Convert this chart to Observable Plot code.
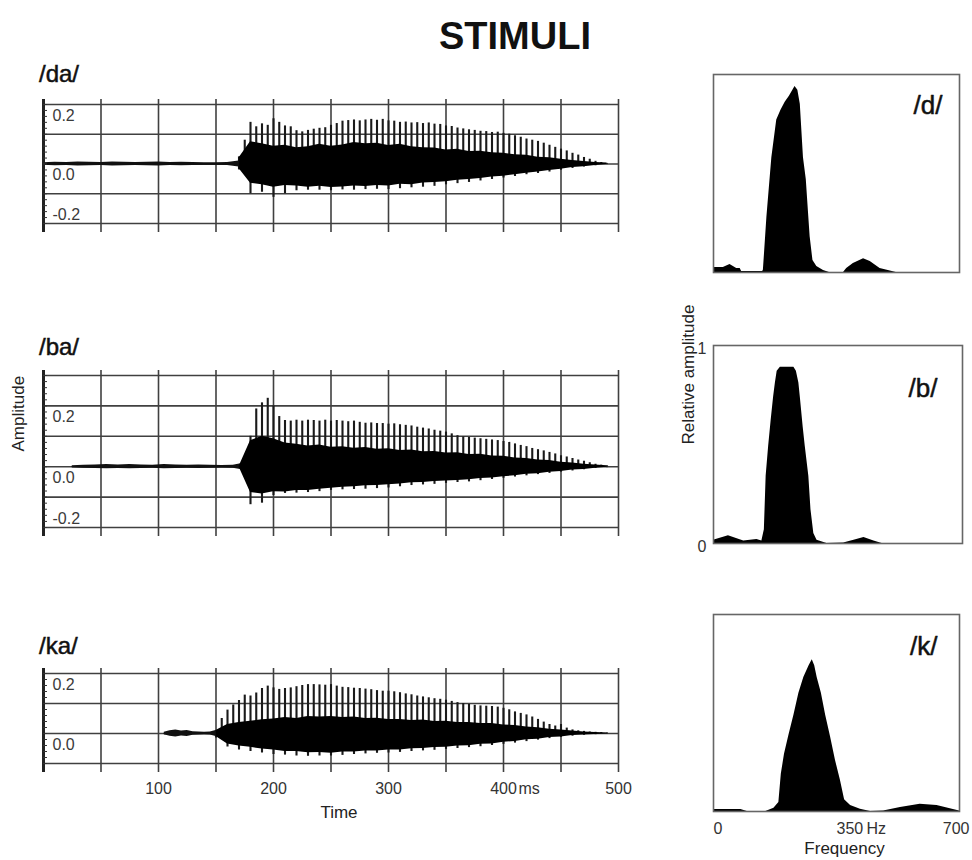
<!DOCTYPE html>
<html>
<head>
<meta charset="utf-8">
<script src="https://cdn.jsdelivr.net/npm/d3@7"></script>
<script src="https://cdn.jsdelivr.net/npm/@observablehq/plot@0.6"></script>
<style>
html, body { margin:0; padding:0; background:#fff; overflow:hidden; }
#root { position:relative; width:972px; height:860px; font-family:"Liberation Sans", Arial, sans-serif; color:#111; }
#root > * { position:absolute; }
.title { left:415px; width:200px; top:17px; text-align:center; font-size:38px; font-weight:bold; line-height:1; }
.plabel { font-size:24px; line-height:1; left:39px; color:#111; -webkit-text-stroke:0.5px #111; }
</style>
</head>
<body>
<div id="root"></div>
<script>
// ---------- text ----------
const chartTitle = "STIMULI";
const syllables = ["/da/", "/ba/", "/ka/"];
const phonemes = ["/d/", "/b/", "/k/"];
const ampTitle = "Amplitude";
const timeTitle = "Time";
const relTitle = "Relative amplitude";
const freqTitle = "Frequency";

// ---------- axes / ticks ----------
const timeGrid = [50, 100, 150, 200, 250, 300, 350, 400, 450, 500];
const timeTicks = [100, 200, 300, 400, 500];
const timeTickLabels = ["100", "200", "300", "400", "500"];
const timeUnitTick = 400;
const timeUnit = "ms";
const ampGridDa = [-0.2, -0.1, 0, 0.1, 0.2];
const ampGridBa = [-0.2, -0.1, 0, 0.1, 0.2, 0.3];
const ampGridKa = [-0.1, 0, 0.1, 0.2];
const ampLabelsDa = [0.2, 0, -0.2];
const ampLabelsBa = [0.2, 0, -0.2];
const ampLabelsKa = [0.2, 0];
const relTicks = [0, 1];
const freqTicks = [0, 350];
const freqTickLabels = ["0", "350\u2009Hz"];
const freqEndTick = 700;
const freqEndLabel = "700";

// ---------- /da/ waveform ----------
const daSpikeT = [170,175,180,185,190,195,200,205,210,215,220,225,230,235,240,245,250,255,260,265,270,275,280,285,290,295,300,305,310,315,320,325,330,335,340,345,350,355,360,365,370,375,380,385,390,395,400,405,410,415,420,425,430,435,440,445,450,455,460,465,470,475,480,485,490];
const daSpikeTop = [0.024,0.08,0.14,0.125,0.135,0.13,0.152,0.14,0.128,0.125,0.112,0.108,0.113,0.117,0.12,0.122,0.13,0.136,0.144,0.146,0.148,0.145,0.148,0.15,0.147,0.15,0.145,0.144,0.14,0.141,0.138,0.139,0.136,0.138,0.134,0.133,0.128,0.126,0.121,0.118,0.115,0.113,0.11,0.109,0.106,0.107,0.103,0.1,0.095,0.09,0.084,0.08,0.076,0.07,0.063,0.056,0.05,0.044,0.036,0.03,0.022,0.016,0.009,0.005,0.002];
const daBodyT = [170,180,190,200,210,220,230,240,250,260,270,280,290,300,310,320,330,340,350,360,370,380,390,400,410,420,430,440,450,460,470,480,490];
const daBodyHi = [0.02,0.075,0.068,0.06,0.063,0.055,0.058,0.066,0.06,0.064,0.072,0.068,0.07,0.062,0.066,0.058,0.055,0.054,0.047,0.05,0.042,0.043,0.038,0.036,0.031,0.029,0.023,0.021,0.016,0.012,0.008,0.005,0.003];
const daBodyLo = [-0.015,-0.065,-0.07,-0.078,-0.072,-0.074,-0.078,-0.075,-0.079,-0.077,-0.074,-0.076,-0.072,-0.074,-0.068,-0.07,-0.064,-0.062,-0.06,-0.055,-0.052,-0.049,-0.044,-0.041,-0.036,-0.031,-0.027,-0.022,-0.018,-0.012,-0.009,-0.005,-0.002];
const daBodyBot = [-0.02,-0.1,-0.095,-0.112,-0.1,-0.09,-0.088,-0.088,-0.09,-0.087,-0.088,-0.086,-0.085,-0.086,-0.083,-0.08,-0.078,-0.075,-0.07,-0.066,-0.062,-0.057,-0.052,-0.047,-0.042,-0.036,-0.032,-0.027,-0.021,-0.015,-0.01,-0.006,-0.002];
const daNoiseT = [0,10,20,30,40,50,60,70,80,90,100,110,120,130,140,150,160,170];
const daNoiseAmp = [0.004,0.006,0.005,0.007,0.006,0.005,0.007,0.006,0.005,0.006,0.007,0.005,0.006,0.005,0.004,0.004,0.005,0.01];

// ---------- /ba/ waveform ----------
const baSpikeT = [175,180,185,190,195,200,205,210,215,220,225,230,235,240,245,250,255,260,265,270,275,280,285,290,295,300,305,310,315,320,325,330,335,340,345,350,355,360,365,370,375,380,385,390,395,400,405,410,415,420,425,430,435,440,445,450,455,460,465,470,475,480,485,490];
const baSpikeTop = [0.03,0.1,0.19,0.21,0.225,0.2,0.165,0.152,0.15,0.153,0.15,0.153,0.152,0.15,0.153,0.15,0.152,0.15,0.148,0.15,0.146,0.143,0.144,0.142,0.142,0.14,0.141,0.138,0.136,0.134,0.13,0.127,0.124,0.12,0.117,0.114,0.108,0.102,0.098,0.096,0.094,0.092,0.09,0.088,0.086,0.083,0.08,0.075,0.07,0.066,0.06,0.056,0.052,0.047,0.042,0.036,0.032,0.027,0.022,0.018,0.013,0.008,0.005,0.003];
const baBodyT = [170,180,190,200,210,220,230,240,250,260,270,280,290,300,310,320,330,340,350,360,370,380,390,400,410,420,430,440,450,460,470,480,490];
const baBodyHi = [0,0.085,0.1,0.092,0.078,0.074,0.068,0.071,0.064,0.066,0.061,0.063,0.057,0.059,0.053,0.055,0.049,0.05,0.045,0.046,0.04,0.041,0.035,0.034,0.029,0.027,0.022,0.02,0.015,0.012,0.008,0.006,0.003];
const baBodyLo = [0,-0.085,-0.09,-0.082,-0.083,-0.078,-0.078,-0.074,-0.071,-0.068,-0.066,-0.063,-0.062,-0.059,-0.057,-0.053,-0.052,-0.049,-0.047,-0.045,-0.043,-0.039,-0.037,-0.033,-0.03,-0.025,-0.023,-0.018,-0.016,-0.011,-0.009,-0.005,-0.002];
const baBodyBot = [0,-0.125,-0.12,-0.095,-0.088,-0.087,-0.085,-0.082,-0.078,-0.076,-0.075,-0.074,-0.072,-0.07,-0.066,-0.062,-0.06,-0.058,-0.055,-0.052,-0.05,-0.046,-0.042,-0.038,-0.034,-0.03,-0.026,-0.022,-0.018,-0.014,-0.01,-0.006,-0.003];
const baNoiseT = [25,35,45,55,65,75,85,95,105,115,125,135,145,155,165,175];
const baNoiseAmp = [0.003,0.005,0.006,0.007,0.006,0.007,0.006,0.005,0.007,0.006,0.005,0.006,0.005,0.004,0.005,0.012];

// ---------- /ka/ waveform ----------
const kaSpikeT = [150,155,160,165,170,175,180,185,190,195,200,205,210,215,220,225,230,235,240,245,250,255,260,265,270,275,280,285,290,295,300,305,310,315,320,325,330,335,340,345,350,355,360,365,370,375,380,385,390,395,400,405,410,415,420,425,430,435,440,445,450,455,460,465,470,475,480,485,490];
const kaSpikeTop = [0.01,0.05,0.078,0.095,0.11,0.128,0.125,0.135,0.15,0.158,0.152,0.147,0.15,0.152,0.156,0.16,0.163,0.163,0.162,0.161,0.163,0.158,0.154,0.153,0.151,0.15,0.148,0.146,0.143,0.141,0.141,0.139,0.136,0.132,0.129,0.125,0.122,0.119,0.116,0.114,0.111,0.107,0.103,0.1,0.097,0.094,0.092,0.091,0.09,0.088,0.084,0.079,0.072,0.067,0.062,0.055,0.047,0.038,0.03,0.025,0.03,0.018,0.012,0.009,0.007,0.005,0.004,0.003,0.002];
const kaBodyT = [150,160,170,180,190,200,210,220,230,240,250,260,270,280,290,300,310,320,330,340,350,360,370,380,390,400,410,420,430,440,450,460,470,480,490];
const kaBodyHi = [0.01,0.03,0.037,0.041,0.046,0.048,0.053,0.05,0.057,0.055,0.057,0.053,0.055,0.05,0.051,0.047,0.047,0.043,0.045,0.04,0.041,0.037,0.037,0.033,0.033,0.028,0.027,0.022,0.019,0.014,0.012,0.008,0.005,0.003,0.002];
const kaBodyLo = [-0.01,-0.035,-0.042,-0.046,-0.052,-0.055,-0.06,-0.06,-0.064,-0.063,-0.066,-0.062,-0.062,-0.058,-0.058,-0.055,-0.055,-0.051,-0.05,-0.047,-0.046,-0.042,-0.041,-0.036,-0.035,-0.029,-0.027,-0.021,-0.019,-0.013,-0.012,-0.007,-0.005,-0.003,-0.002];
const kaBodyBot = [-0.015,-0.045,-0.055,-0.06,-0.065,-0.07,-0.072,-0.075,-0.076,-0.075,-0.075,-0.073,-0.07,-0.068,-0.066,-0.065,-0.063,-0.06,-0.058,-0.056,-0.053,-0.05,-0.047,-0.044,-0.04,-0.036,-0.032,-0.027,-0.022,-0.017,-0.013,-0.009,-0.006,-0.004,-0.002];
const kaNoiseT = [105,110,115,120,125,130,135,140,145,150];
const kaNoiseAmp = [0.004,0.009,0.012,0.008,0.01,0.006,0.005,0.004,0.005,0.01];

// ---------- spectra (Hz, relative amplitude) ----------
const dFreq = [0,28,47,66,76,80,140,142,152,166,180,192,204,216,232,240,247,256,264,270,275,283,294,313,330,370,379,398,427,446,474,503,520,700];
const dAmp  = [0.025,0.025,0.04,0.02,0.02,0.005,0.005,0.012,0.28,0.58,0.77,0.82,0.86,0.89,0.94,0.92,0.85,0.58,0.47,0.31,0.18,0.06,0.03,0.01,0,0,0.02,0.045,0.07,0.055,0.02,0.007,0,0];
const bFreq = [0,42,85,122,136,143,148,155,162,169,174,179,188,226,233,240,244,252,258,268,274,282,291,319,366,395,423,451,474,700];
const bAmp  = [0.017,0.039,0.013,0.02,0.013,0.07,0.34,0.49,0.62,0.74,0.81,0.87,0.89,0.89,0.87,0.81,0.74,0.59,0.49,0.34,0.17,0.05,0.017,0,0.003,0.017,0.03,0.013,0,0];
const kFreq = [0,78,96,149,172,186,193,202,215,229,243,257,272,281,288,295,307,319,333,347,361,373,390,418,447,484,532,588,636,700];
const kAmp  = [0.01,0.01,0,0,0.017,0.046,0.19,0.29,0.39,0.49,0.6,0.68,0.74,0.77,0.74,0.68,0.6,0.49,0.38,0.26,0.16,0.06,0.03,0.012,0,0.003,0.02,0.037,0.03,0.003];

// ---------- drawing ----------
const FONT = '"Liberation Sans", Arial, sans-serif';
const plotStyle = {fontFamily: FONT, color: "#111", background: "transparent", overflow: "visible"};
const root = document.getElementById("root");
function place(el, left, top) { el.style.left = left + "px"; el.style.top = top + "px"; root.appendChild(el); return el; }
function div(text, cls) { const e = document.createElement("div"); e.className = cls; e.textContent = text; return e; }

place(div(chartTitle, "title"), 415, 17);

function wavePanel(o) {
  const spikes = o.spikeT.map((t, i) => ({t, v: o.spikeTop[i]}));
  const body = o.bodyT.map((t, i) => ({t, hi: o.bodyHi[i], lo: o.bodyLo[i], bot: o.bodyBot[i]}));
  const noise = o.noiseT.map((t, i) => ({t, a: o.noiseAmp[i]}));
  const ymin = d3.min(o.grid), ymax = d3.max(o.grid);
  const labelStyle = {x: 0, y: d => d, text: d => d.toFixed(1), dx: 9, textAnchor: "start", lineAnchor: "middle", fontSize: 16, fill: "#3a3a3a"};
  return Plot.plot({
    width: 640, height: o.height, marginLeft: 43, marginRight: 22, marginTop: o.mt, marginBottom: o.mb,
    x: {domain: [0, 500], axis: null}, y: {domain: [ymin, ymax], axis: null}, style: plotStyle,
    marks: [
      Plot.ruleY(o.grid, {stroke: "#404040", strokeWidth: 1.6}),
      Plot.ruleX(timeGrid, {stroke: "#404040", strokeWidth: 1.6, insetTop: -5, insetBottom: -9}),
      Plot.areaY(noise, {x: "t", y1: d => -d.a, y2: d => d.a, fill: "#111"}),
      Plot.lineY(noise, {x: "t", y: 0, stroke: "#111", strokeWidth: 1.5}),
      Plot.ruleX(spikes, {x: "t", y1: 0, y2: "v", stroke: "#1a1a1a", strokeWidth: 2.1}),
      Plot.ruleX(body, {x: "t", y1: "bot", y2: 0, stroke: "#1a1a1a", strokeWidth: 2.1}),
      Plot.areaY(body, {x: "t", y1: "lo", y2: "hi", fill: "#000"}),
      Plot.ruleX([0], {stroke: "#222", strokeWidth: 3, insetTop: -5, insetBottom: -9}),
      Plot.axisY({ticks: o.minorCount, tickSize: 4, dx: 4, tickFormat: () => "", stroke: "#333"}),
      Plot.text(o.labels.filter(d => d > ymin), {...labelStyle, dy: 11}),
      Plot.text(o.labels.filter(d => d === ymin), {...labelStyle, dy: -9}),
      ...(o.extra || [])
    ]
  });
}

function specPanel(o) {
  const data = o.freq.map((f, i) => ({f, a: o.amp[i]}));
  return Plot.plot({
    width: 312, height: o.height, marginLeft: 53, marginRight: o.mr, marginTop: 14, marginBottom: o.mb,
    x: {domain: [0, 700], axis: null}, y: {domain: [0, 1], axis: null}, style: plotStyle,
    marks: [
      Plot.areaY(data, {x: "f", y: "a", fill: "#000"}),
      Plot.frame({stroke: "#666", strokeWidth: 1.6}),
      Plot.text([o.label], {text: d => d, frameAnchor: "top-right", dx: o.ldx, dy: o.ldy, textAnchor: "end", lineAnchor: "middle", fontSize: 26, fill: "#111", stroke: "#111", strokeWidth: 0.5}),
      ...(o.extra || [])
    ]
  });
}

// left: waveforms
place(div(syllables[0], "plabel"), 39, 62);
place(wavePanel({spikeT: daSpikeT, spikeTop: daSpikeTop, bodyT: daBodyT, bodyHi: daBodyHi, bodyLo: daBodyLo, bodyBot: daBodyBot,
  noiseT: daNoiseT, noiseAmp: daNoiseAmp, grid: ampGridDa, labels: ampLabelsDa, minorCount: 20, height: 153, mt: 14, mb: 20}), 0, 90);

place(div(syllables[1], "plabel"), 39, 335);
place(wavePanel({spikeT: baSpikeT, spikeTop: baSpikeTop, bodyT: baBodyT, bodyHi: baBodyHi, bodyLo: baBodyLo, bodyBot: baBodyBot,
  noiseT: baNoiseT, noiseAmp: baNoiseAmp, grid: ampGridBa, labels: ampLabelsBa, minorCount: 25, height: 187, mt: 15, mb: 20,
  extra: [Plot.text([ampTitle], {text: d => d, frameAnchor: "left", rotate: -90, dx: -25, fontSize: 17, fill: "#222"})]}), 0, 360);

place(div(syllables[2], "plabel"), 39, 634);
place(wavePanel({spikeT: kaSpikeT, spikeTop: kaSpikeTop, bodyT: kaBodyT, bodyHi: kaBodyHi, bodyLo: kaBodyLo, bodyBot: kaBodyBot,
  noiseT: kaNoiseT, noiseAmp: kaNoiseAmp, grid: ampGridKa, labels: ampLabelsKa, minorCount: 15, height: 164, mt: 14, mb: 60,
  extra: [
    Plot.text(timeTicks, {x: d => d, text: timeTickLabels, frameAnchor: "bottom", dy: 25, lineAnchor: "middle", fontSize: 16, fill: "#333"}),
    Plot.text([timeUnitTick], {x: d => d, text: () => timeUnit, frameAnchor: "bottom", dx: 15, dy: 25, textAnchor: "start", lineAnchor: "middle", fontSize: 16, fill: "#333"}),
    Plot.text([timeTitle], {text: d => d, frameAnchor: "bottom", dx: 8, dy: 49, lineAnchor: "middle", fontSize: 17, fill: "#222"})
  ]}), 0, 659);

// right: spectra
place(specPanel({freq: dFreq, amp: dAmp, label: phonemes[0], height: 228, mr: 13, mb: 16, ldx: -17, ldy: 31}), 660, 60);
place(specPanel({freq: bFreq, amp: bAmp, label: phonemes[1], height: 228, mr: 10, mb: 16, ldx: -25, ldy: 43,
  extra: [
    Plot.text(relTicks, {x: 0, y: d => d, text: d => String(d), dx: -7, dy: 3, textAnchor: "end", lineAnchor: "middle", fontSize: 16, fill: "#333"}),
    Plot.text([relTitle], {text: d => d, frameAnchor: "left", rotate: -90, dx: -25, fontSize: 17, fill: "#222"})
  ]}), 660, 331);
place(specPanel({freq: kFreq, amp: kAmp, label: phonemes[2], height: 260, mr: 13, mb: 49, ldx: -22, ldy: 32,
  extra: [
    Plot.text(freqTicks, {x: d => d, text: freqTickLabels, frameAnchor: "bottom", dy: 17, textAnchor: "start", lineAnchor: "middle", fontSize: 16, fill: "#333"}),
    Plot.text([freqEndTick], {x: d => d, text: () => freqEndLabel, frameAnchor: "bottom", dx: 10, dy: 17, textAnchor: "end", lineAnchor: "middle", fontSize: 16, fill: "#333"}),
    Plot.text([freqTitle], {text: d => d, frameAnchor: "bottom", dx: 8, dy: 37, lineAnchor: "middle", fontSize: 17, fill: "#222"})
  ]}), 660, 600);
</script>
</body>
</html>
